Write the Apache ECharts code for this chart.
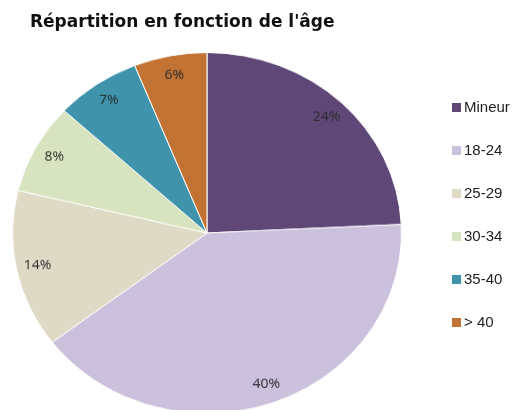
<!DOCTYPE html>
<html>
<head>
<meta charset="utf-8">
<script src="https://cdn.jsdelivr.net/npm/echarts@6/dist/echarts.min.js"></script>
<style>
  html, body { margin: 0; padding: 0; background: #fff; overflow: hidden; }
  #wrap { position: relative; width: 517px; height: 410px; overflow: hidden; }
  /* le camembert d'origine est légèrement aplati : on l'écrase verticalement */
  #pie { position: absolute; left: 0; top: 0; width: 517px; height: 450px;
         transform-origin: 207px 233px; transform: scaleY(0.9275); }
  #chart { position: absolute; left: 0; top: 0; width: 517px; height: 410px; }
</style>
</head>
<body>
<div id="wrap">
  <div id="pie"></div>
  <div id="chart"></div>
</div>
<script>
// tranches d'âge et parts (%)
const categories = ['Mineur', '18-24', '25-29', '30-34', '35-40', '> 40'];
const shares = [24, 40, 14, 8, 7, 6];
const colors = ['#5f4878', '#cbc1dc', '#dedac5', '#d8e4bf', '#3f93ab', '#c27333'];

const pieData = categories.map((name, i) => ({
    name: name,
    value: shares[i],
    itemStyle: { color: colors[i] }
}));

const pieChart = echarts.init(document.getElementById('pie'));
pieChart.setOption({
    animation: false,
    series: [
        {
            name: 'Âge',
            type: 'pie',
            center: [207, 233],
            radius: [0, 194.5],
            startAngle: 90,
            clockwise: true,
            itemStyle: { borderColor: '#fff', borderWidth: 1 },
            label: { show: false },
            labelLine: { show: false },
            data: pieData
        },
        {
            // anneau transparent, sert seulement à placer les étiquettes
            name: 'labels',
            type: 'pie',
            center: [207, 233],
            radius: [146, 194.5],
            startAngle: 90,
            clockwise: true,
            silent: true,
            itemStyle: { color: 'rgba(0,0,0,0)' },
            label: {
                show: true,
                position: 'inside',
                formatter: p => p.value + '%',
                fontFamily: 'Open Sans',
                fontSize: 14,
                color: '#2b2b2b'
            },
            labelLine: { show: false },
            data: categories.map((name, i) => ({ name: name, value: shares[i] }))
        }
    ]
});

// titre et légende, non déformés
const chart = echarts.init(document.getElementById('chart'));
chart.setOption({
    animation: false,
    title: {
        text: "Répartition en fonction de l'âge",
        left: 25,
        top: 9,
        textStyle: {
            fontFamily: 'DejaVu Sans',
            fontWeight: 'bold',
            fontSize: 17,
            color: '#111'
        }
    },
    legend: {
        orient: 'vertical',
        left: 447,
        top: 95,
        itemWidth: 9,
        itemHeight: 9,
        itemGap: 28,
        icon: 'rect',
        data: categories.map((name, i) => ({ name: name, itemStyle: { color: colors[i] } })),
        textStyle: {
            fontFamily: 'Liberation Sans',
            fontSize: 15,
            color: '#222',
            padding: [0, 0, 0, -2]
        }
    },
    series: [
        {
            // série vide pour alimenter la légende
            type: 'pie',
            radius: 0,
            silent: true,
            label: { show: false },
            data: categories.map(name => ({ name: name, value: 0 }))
        }
    ]
});
</script>
</body>
</html>
